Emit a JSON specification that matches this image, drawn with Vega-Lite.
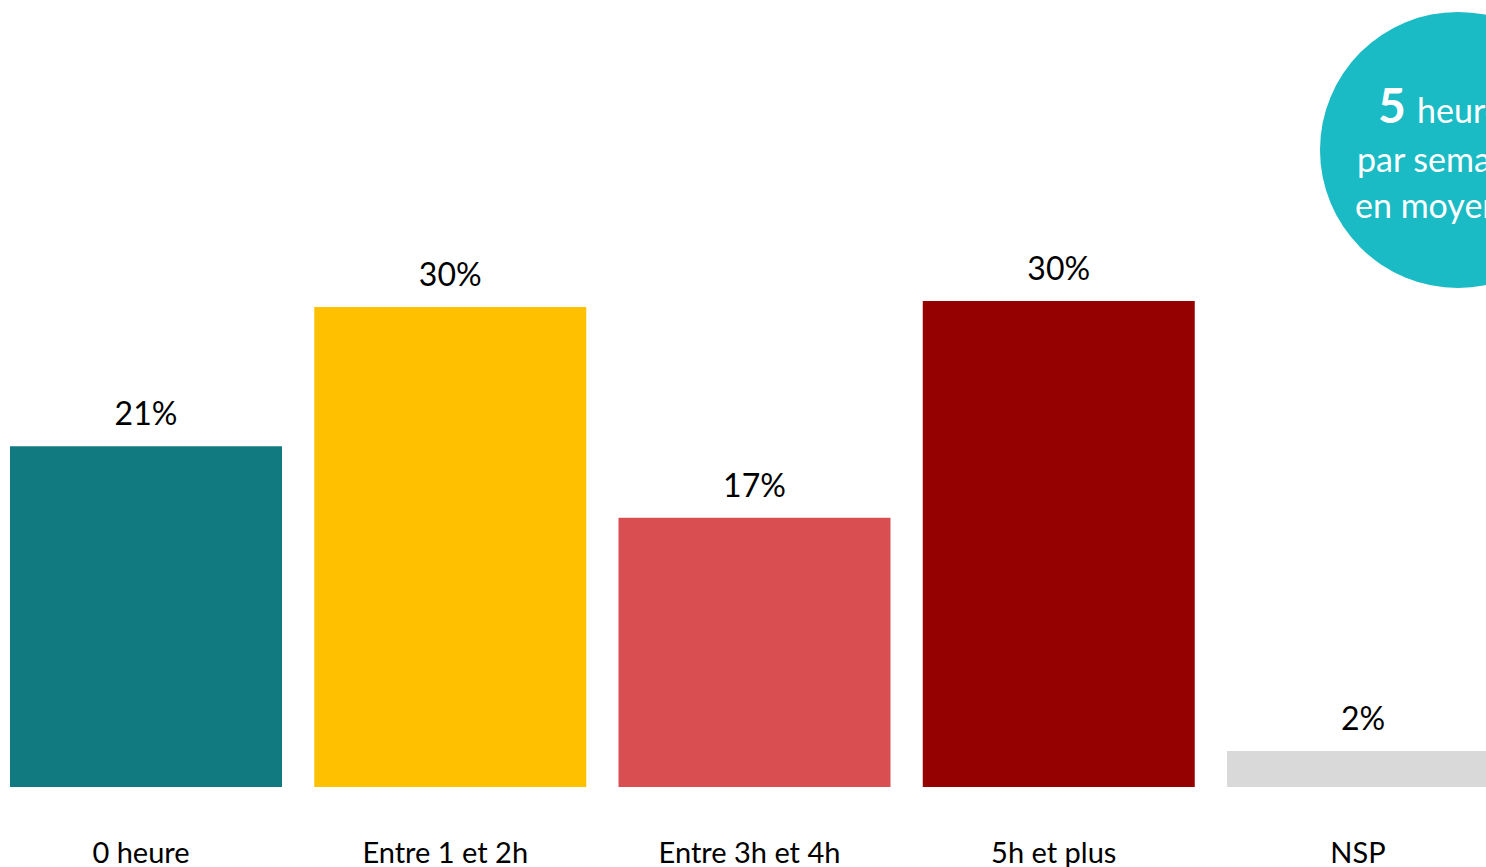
{
  "$schema": "https://vega.github.io/schema/vega-lite/v6.json",
  "width": 1486,
  "height": 787,
  "autosize": {"type": "none"},
  "padding": {"left": 0, "top": 0, "right": 0, "bottom": 80},
  "background": "white",
  "config": {"view": {"stroke": null}, "font": "Lato"},
  "data": {
    "values": [
      {"category": "0 heure", "value": 0.21},
      {"category": "Entre 1 et 2h", "value": 0.2958},
      {"category": "Entre 3h et 4h", "value": 0.166},
      {"category": "5h et plus", "value": 0.2995},
      {"category": "NSP", "value": 0.0222}
    ]
  },
  "encoding": {
    "x": {
      "field": "category",
      "type": "nominal",
      "sort": null,
      "scale": {
        "domain": ["0 heure", "Entre 1 et 2h", "Entre 3h et 4h", "5h et plus", "NSP"],
        "range": [10, 1499],
        "paddingInner": 0.106,
        "paddingOuter": 0
      },
      "axis": {
        "title": null,
        "domain": false,
        "ticks": false,
        "grid": false,
        "labelAngle": 0,
        "labelFont": "Lato",
        "labelFontSize": 29,
        "labelColor": "#000000",
        "labelPadding": 52,
        "labelOffset": -5,
        "labelLimit": 500
      }
    },
    "y": {
      "field": "value",
      "type": "quantitative",
      "scale": {"domain": [0, 0.485]},
      "axis": null
    }
  },
  "layer": [
    {
      "mark": {"type": "bar"},
      "encoding": {
        "color": {
          "field": "category",
          "type": "nominal",
          "scale": {
            "domain": ["0 heure", "Entre 1 et 2h", "Entre 3h et 4h", "5h et plus", "NSP"],
            "range": ["#107A80", "#FFC000", "#D94F51", "#950000", "#D9D9D9"]
          },
          "legend": null
        }
      }
    },
    {
      "mark": {"type": "text", "baseline": "alphabetic", "dy": -21, "fontSize": 32, "color": "#000000", "font": "Lato"},
      "encoding": {
        "text": {"field": "value", "type": "quantitative", "format": ".0%"}
      }
    },
    {
      "data": {"values": [{"category": "NSP", "value": 0.3926}]},
      "mark": {"type": "point", "shape": "circle", "filled": true, "opacity": 1, "size": 76176, "color": "#1ABBC4", "xOffset": 95},
      "encoding": {}
    },
    {
      "data": {"values": [{"category": "NSP", "value": 0.4092, "label": "5"}]},
      "mark": {"type": "text", "align": "left", "baseline": "alphabetic", "fontSize": 48, "fontWeight": "bold", "color": "#FFFFFF", "font": "Lato", "xOffset": 15},
      "encoding": {"text": {"field": "label"}}
    },
    {
      "data": {"values": [{"category": "NSP", "value": 0.4092, "label": "heures"}]},
      "mark": {"type": "text", "align": "left", "baseline": "alphabetic", "fontSize": 34, "color": "#FFFFFF", "font": "Lato", "xOffset": 54},
      "encoding": {"text": {"field": "label"}}
    },
    {
      "data": {"values": [{"category": "NSP", "value": 0.379, "label": "par semaine"}]},
      "mark": {"type": "text", "align": "left", "baseline": "alphabetic", "fontSize": 34, "color": "#FFFFFF", "font": "Lato", "xOffset": -6},
      "encoding": {"text": {"field": "label"}}
    },
    {
      "data": {"values": [{"category": "NSP", "value": 0.3507, "label": "en moyenne"}]},
      "mark": {"type": "text", "align": "left", "baseline": "alphabetic", "fontSize": 34, "color": "#FFFFFF", "font": "Lato", "xOffset": -8},
      "encoding": {"text": {"field": "label"}}
    }
  ]
}
